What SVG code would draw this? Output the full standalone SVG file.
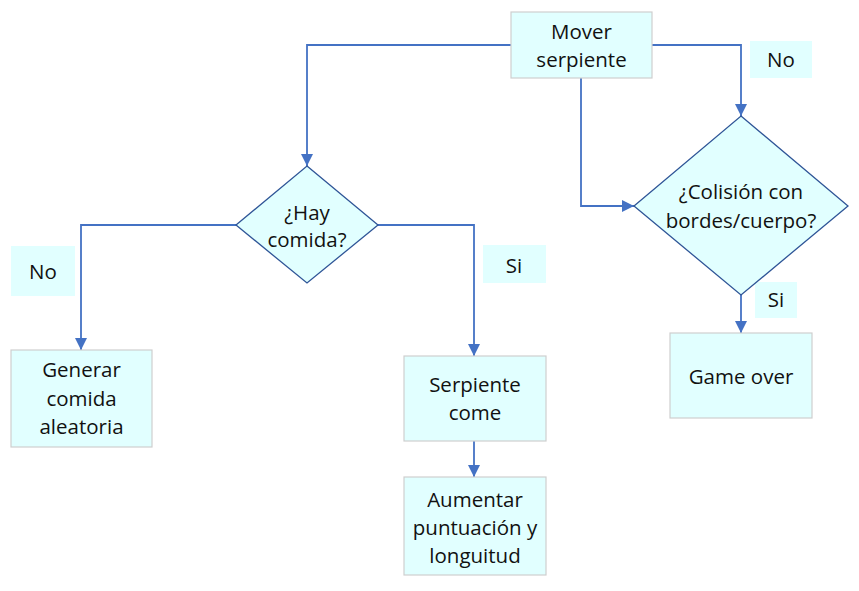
<svg xmlns="http://www.w3.org/2000/svg" width="859" height="591" viewBox="0 0 859 591">
<style>
.box{fill:#E1FFFF;stroke:#CFCFCF;stroke-width:1.2}
.dia{fill:#E1FFFF;stroke:#2F5597;stroke-width:1.3}
.lbl{fill:#E1FFFF}
.t{font-family:"Open Sans","Liberation Sans",sans-serif;font-size:20.5px;fill:#111;text-anchor:middle}
.c{fill:none;stroke:#4472C4;stroke-width:1.8}
</style>
<defs>
<marker id="ah" viewBox="0 0 12 12" refX="12" refY="6" markerWidth="12" markerHeight="12" markerUnits="userSpaceOnUse" orient="auto">
<path d="M0,0 L12,6 L0,12 Z" fill="#4472C4"/>
</marker>
</defs>
<rect width="859" height="591" fill="#fff"/>
<g id="connectors">
<path class="c" d="M511,45 H307 V166" marker-end="url(#ah)"/>
<path class="c" d="M652,45 H741 V116" marker-end="url(#ah)"/>
<path class="c" d="M581,78 V206 H634" marker-end="url(#ah)"/>
<path class="c" d="M741,295 V333" marker-end="url(#ah)"/>
<path class="c" d="M236,225 H81 V350" marker-end="url(#ah)"/>
<path class="c" d="M378,225 H474 V356" marker-end="url(#ah)"/>
<path class="c" d="M474,441 V477" marker-end="url(#ah)"/>
</g>
<g id="label-no-top"><rect class="lbl" x="750" y="41" width="62" height="37"/><text class="t" x="781" y="67">No</text></g>
<g id="label-si-bottom"><rect class="lbl" x="755" y="282" width="42" height="36"/><text class="t" x="776" y="307">Si</text></g>
<g id="label-no-left"><rect class="lbl" x="11" y="246" width="64" height="50"/><text class="t" x="43" y="279">No</text></g>
<g id="label-si-right"><rect class="lbl" x="483" y="245" width="63" height="38"/><text class="t" x="514" y="273">Si</text></g>
<g id="mover"><rect class="box" x="511" y="12" width="141" height="66"/><text class="t" x="581.5" y="39">Mover</text><text class="t" x="581.5" y="67">serpiente</text></g>
<g id="colision"><path class="dia" d="M741,116 L848,206 L741,295 L634,206 Z"/><text class="t" x="741" y="199">¿Colisión con</text><text class="t" x="741" y="228">bordes/cuerpo?</text></g>
<g id="gameover"><rect class="box" x="670" y="333" width="142" height="85"/><text class="t" x="741" y="384">Game over</text></g>
<g id="hay"><path class="dia" d="M307,166 L378,225 L307,283 L236,225 Z"/><text class="t" x="307" y="220">¿Hay</text><text class="t" x="307" y="247">comida?</text></g>
<g id="generar"><rect class="box" x="11" y="350" width="141" height="97"/><text class="t" x="81.5" y="377">Generar</text><text class="t" x="81.5" y="406">comida</text><text class="t" x="81.5" y="434">aleatoria</text></g>
<g id="come"><rect class="box" x="404" y="356" width="142" height="85"/><text class="t" x="475" y="392">Serpiente</text><text class="t" x="475" y="420">come</text></g>
<g id="aumentar"><rect class="box" x="404" y="477" width="142" height="98"/><text class="t" x="475" y="507">Aumentar</text><text class="t" x="475" y="535">puntuación y</text><text class="t" x="475" y="563">longuitud</text></g>
</svg>
